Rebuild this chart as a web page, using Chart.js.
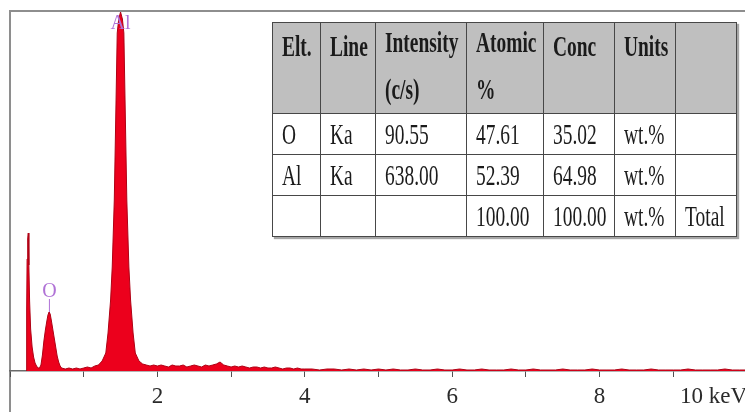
<!DOCTYPE html>
<html>
<head>
<meta charset="utf-8">
<script src="https://cdn.jsdelivr.net/npm/chart.js@4.4.1/dist/chart.umd.min.js"></script>
<style>
  html, body {
    margin: 0;
    padding: 0;
    background: #fff;
    overflow: hidden;
    width: 745px;
    height: 412px;
  }
  #frame {
    position: absolute;
    left: 9px;
    top: 10px;
    width: 800px;
    height: 500px;
    border-left: 2px solid #8e8e8e;
    border-top: 2px solid #8e8e8e;
  }
  #edsChart {
    position: absolute;
    left: 0;
    top: 0;
  }
  #results {
    position: absolute;
    left: 272px;
    top: 22px;
    width: 464px;
    border-collapse: collapse;
    table-layout: fixed;
    background: #fff;
    box-shadow: 2px 2px 1px rgba(0, 0, 0, 0.35);
    font-family: "Liberation Serif", "Times New Roman", serif;
    font-size: 29px;
    color: #1b1b1b;
  }
  #results td, #results th {
    border: 1.5px solid #474747;
    padding: 0 0 0 9px;
    text-align: left;
    white-space: nowrap;
    overflow: hidden;
  }
  #results th {
    height: 83px;
    background: #bfbfbf;
    vertical-align: top;
    line-height: 47px;
    font-weight: bold;
  }
  #results td {
    height: 40px;
    vertical-align: middle;
    line-height: 30px;
    font-weight: normal;
  }
  #results span {
    display: inline-block;
    transform: scaleX(0.67);
    transform-origin: 0 50%;
  }
  #results th span {
    margin-top: -4px;
  }
</style>
</head>
<body>
<div id="frame"></div>
<canvas id="edsChart" width="760" height="412"></canvas>
<table id="results">
  <colgroup>
    <col style="width:48px"><col style="width:55px"><col style="width:91px">
    <col style="width:77px"><col style="width:71px"><col style="width:61px"><col style="width:61px">
  </colgroup>
  <thead><tr id="resultsHead"></tr></thead>
  <tbody id="resultsBody"></tbody>
</table>
<script>
// EDS spectrum, energy in keV against counts
const energyKeV = [
  // low-energy noise peak
  0.220, 0.226, 0.232, 0.240, 0.248, 0.256, 0.266, 0.280, 0.300, 0.320, 0.340, 0.360, 0.380,
  // O Ka
  0.400, 0.420, 0.440, 0.460, 0.480, 0.500, 0.515, 0.530, 0.545, 0.560, 0.580, 0.600, 0.620,
  0.640, 0.660, 0.680, 0.700,
  // background
  0.750, 0.800, 0.850, 0.900, 0.950, 1.000, 1.050, 1.100, 1.150,
  // Al Ka
  1.200, 1.250, 1.300, 1.330, 1.365, 1.387, 1.415, 1.439, 1.455, 1.475,
  1.500, 1.525, 1.545, 1.561, 1.585, 1.613, 1.636, 1.670, 1.700, 1.750,
  // background
  1.80, 1.85, 1.90, 1.95, 2.00, 2.05, 2.10, 2.15, 2.20, 2.25,
  2.30, 2.35, 2.40, 2.45, 2.50, 2.55, 2.60, 2.65, 2.70, 2.75,
  2.80, 2.85, 2.90, 2.95, 3.00, 3.05, 3.10, 3.15, 3.20, 3.25,
  3.30, 3.35, 3.40, 3.45, 3.50, 3.55, 3.60, 3.65, 3.70, 3.75,
  3.80, 3.85, 3.90, 3.95, 4.00,
  4.1, 4.2, 4.3, 4.4, 4.5, 4.6, 4.7, 4.8, 4.9, 5.0,
  5.1, 5.2, 5.3, 5.4, 5.5, 5.6, 5.7, 5.8, 5.9, 6.0,
  6.1, 6.2, 6.3, 6.4, 6.5, 6.6, 6.7, 6.8, 6.9, 7.0,
  7.1, 7.2, 7.3, 7.4, 7.5, 7.6, 7.7, 7.8, 7.9, 8.0,
  8.1, 8.2, 8.3, 8.4, 8.5, 8.6, 8.7, 8.8, 8.9, 9.0,
  9.1, 9.2, 9.3, 9.4, 9.5, 9.6, 9.7, 9.8, 9.9, 10.0,
];

const counts = [
  0, 60, 112, 132, 138, 106, 70, 42, 24, 14, 8, 5, 3,
  3, 6, 16, 30, 41, 50, 56, 59, 57, 51, 42, 33, 24,
  15, 9, 5, 3,
  2, 3, 2, 3, 2, 3, 4, 3, 5,
  6, 10, 18, 38, 71, 104, 171, 271, 338, 352,
  359, 352, 338, 271, 171, 104, 71, 38, 18, 10,
  7, 6, 5, 6, 5, 6, 5, 4, 6, 5,
  5, 6, 4, 5, 6, 5, 4, 6, 5, 6,
  7, 9, 6, 5, 4, 5, 4, 5, 4, 3,
  4, 4, 3, 4, 3, 3, 4, 3, 2, 3,
  3, 2, 3, 2, 2,
  2, 1, 2, 2, 1, 2, 1, 2, 1, 2,
  1, 2, 1, 1, 2, 1, 1, 2, 1, 1,
  2, 1, 1, 2, 1, 1, 1, 2, 1, 1,
  2, 1, 1, 1, 2, 1, 1, 1, 2, 1,
  1, 1, 2, 1, 1, 1, 2, 1, 1, 1,
  1, 2, 1, 1, 1, 1, 2, 1, 1, 1,
];

// x axis: one tick per keV, labels on the even ones
const tickValues = [0, 1, 2, 3, 4, 5, 6, 7, 8, 9, 10];
const tickLabels = ['', '', '2', '', '4', '', '6', '', '8', '', '10 keV'];

// identified lines
const peakSymbols = ['O', 'Al'];
const peakEnergies = [0.535, 1.50];

// quantification results
const headLabels = ['Elt.', 'Line', 'Intensity\n(c/s)', 'Atomic\n%', 'Conc', 'Units', ''];
const rowElements = ['O', 'Al', ''];
const rowLines = ['Ka', 'Ka', ''];
const rowIntensity = [90.55, 638.00, null];
const rowAtomic = [47.61, 52.39, 100.00];
const rowConc = [35.02, 64.98, 100.00];
const rowUnits = ['wt.%', 'wt.%', 'wt.%'];
const rowNotes = ['', '', 'Total'];

const markerColor = '#b072d6';

const fmt = (v) => (v === null ? '' : v.toFixed(2));

// Build the results table from the arrays above.
const buildTable = function buildResultsTable() {
  const head = document.querySelector('#resultsHead');
  headLabels.forEach((label) => {
    const th = document.createElement('th');
    const span = document.createElement('span');
    label.split('\n').forEach((part, i) => {
      if (i > 0) span.appendChild(document.createElement('br'));
      span.appendChild(document.createTextNode(part));
    });
    th.appendChild(span);
    head.appendChild(th);
  });

  const body = document.querySelector('#resultsBody');
  rowElements.forEach((el, i) => {
    const cells = [el, rowLines[i], fmt(rowIntensity[i]), fmt(rowAtomic[i]),
      fmt(rowConc[i]), rowUnits[i], rowNotes[i]];
    const tr = document.createElement('tr');
    cells.forEach((text) => {
      const td = document.createElement('td');
      const span = document.createElement('span');
      span.textContent = text;
      td.appendChild(span);
      tr.appendChild(td);
    });
    body.appendChild(tr);
  });
};

// highest count within a small window around a line energy
const peakCount = (energy) => {
  let best = 0;
  energyKeV.forEach((e, i) => {
    if (Math.abs(e - energy) <= 0.05) best = Math.max(best, counts[i]);
  });
  return best;
};

const labelPosition = (chart, i) => {
  const { x, y } = chart.scales;
  const px = x.getPixelForValue(peakEnergies[i]);
  const top = y.getPixelForValue(peakCount(peakEnergies[i]));
  const py = Math.max(top - 20, chart.chartArea.top + 13);
  return { px, py };
};

// element markers: thin line up to the symbol, symbol drawn over the spectrum
const peakMarkers = {
  id: 'peakMarkers',
  beforeDatasetsDraw(chart) {
    const { ctx } = chart;
    const base = chart.scales.y.getPixelForValue(0);
    ctx.save();
    ctx.strokeStyle = markerColor;
    ctx.lineWidth = 1;
    peakSymbols.forEach((s, i) => {
      const { px, py } = labelPosition(chart, i);
      ctx.beginPath();
      ctx.moveTo(px, base);
      ctx.lineTo(px, py + 7);
      ctx.stroke();
    });
    ctx.restore();
  },
  afterDatasetsDraw(chart) {
    const { ctx } = chart;
    ctx.save();
    ctx.fillStyle = markerColor;
    ctx.font = '20px "Liberation Serif", serif';
    ctx.textAlign = 'center';
    ctx.textBaseline = 'middle';
    peakSymbols.forEach((s, i) => {
      const { px, py } = labelPosition(chart, i);
      ctx.fillText(s, px, py);
    });
    ctx.restore();
  },
};

const renderChart = function renderSpectrum() {
  const canvas = document.querySelector('#edsChart');

  new Chart(canvas, {
    type: 'line',
    data: {
      datasets: [
        {
          label: 'Counts',
          data: energyKeV.map((e, i) => ({ x: e, y: counts[i] })),
          borderColor: 'rgb(175, 0, 20)',
          backgroundColor: 'rgb(236, 0, 28)',
          borderWidth: 1,
          pointRadius: 0,
          tension: 0,
          fill: 'origin',
        },
      ],
    },
    options: {
      responsive: false,
      devicePixelRatio: 1,
      animation: false,
      layout: {
        padding: { left: 10, right: 13, top: 11, bottom: 0 },
      },
      plugins: {
        legend: { display: false },
        tooltip: { enabled: false },
      },
      scales: {
        x: {
          type: 'linear',
          min: 0,
          max: 10,
          afterFit: (scale) => { scale.height = 41; },
          afterBuildTicks: (scale) => {
            scale.ticks = tickValues.map((v) => ({ value: v }));
          },
          border: { display: true, color: '#6a6a6a', width: 1.5 },
          grid: {
            drawOnChartArea: false,
            drawTicks: true,
            tickLength: 6,
            color: '#505050',
          },
          ticks: {
            autoSkip: false,
            maxRotation: 0,
            align: 'inner',
            padding: 6,
            color: '#2a2a2a',
            font: { family: '"Liberation Serif", serif', size: 23 },
            callback: (value) => tickLabels[tickValues.indexOf(value)] ?? '',
          },
        },
        y: {
          display: false,
          min: 0,
          max: 360,
        },
      },
    },
    plugins: [peakMarkers],
  });
};

buildTable();
renderChart();
</script>
</body>
</html>
